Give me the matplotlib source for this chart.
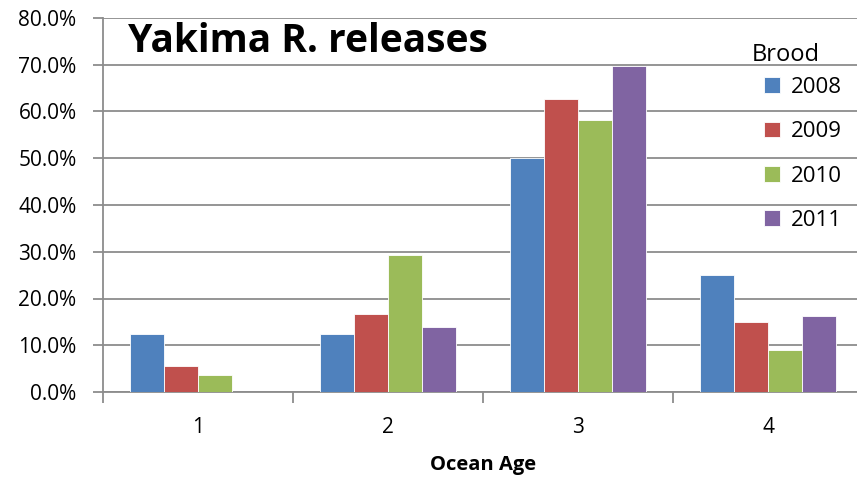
import matplotlib.pyplot as plt
import numpy as np

# ocean age categories and brood year series (fraction of returns)
ages = ['1', '2', '3', '4']
broods = ['2008', '2009', '2010', '2011']
b2008 = [0.125, 0.125, 0.500, 0.250]
b2009 = [0.056, 0.167, 0.627, 0.150]
b2010 = [0.037, 0.292, 0.581, 0.090]
b2011 = [0.000, 0.139, 0.698, 0.163]

colors = ['#4F81BD', '#C0504D', '#9BBB59', '#8064A2']

plt.rcParams['font.family'] = ['Open Sans', 'DejaVu Sans']

fig = plt.figure(figsize=(8.57, 4.82), dpi=100)
ax = fig.add_axes([103 / 857, 1 - 392 / 482, 760 / 857, 374 / 482])

x = np.arange(len(ages))
bar_width = 0.179
for i, (label, vals) in enumerate(zip(broods, [b2008, b2009, b2010, b2011])):
    ax.bar(x + (i - 1.5) * bar_width, vals, bar_width, color=colors[i],
           edgecolor='white', linewidth=0.6, label=label, zorder=3)

ax.set_xlim(-0.5, 3.5)
ax.set_ylim(0, 0.8)
ax.set_yticks(np.arange(0, 0.81, 0.1))
ax.set_yticklabels(['%.1f%%' % (v * 100) for v in np.arange(0, 0.81, 0.1)], fontsize=15)
ax.yaxis.grid(True, color='#8c8c8c', linewidth=1.3, zorder=0)

# ticks on category boundaries, labels at centres
ax.set_xticks(np.arange(-0.5, 3.6, 1.0))
ax.set_xticklabels([])
ax.set_xticks(x, minor=True)
ax.set_xticklabels(ages, minor=True, fontsize=15)
ax.tick_params(axis='x', which='minor', length=0, pad=18)
ax.tick_params(axis='x', which='major', length=8, width=1.3, color='#8c8c8c', direction='out')
ax.tick_params(axis='y', length=7, width=1.3, color='#8c8c8c', direction='out', pad=12)

for s in ['top', 'right']:
    ax.spines[s].set_visible(False)
for s in ['left', 'bottom']:
    ax.spines[s].set_color('#8c8c8c')
    ax.spines[s].set_linewidth(1.3)

ax.set_xlabel('Ocean Age', fontsize=14.5, fontweight='bold', labelpad=12)

fig.text(128 / 857, 1 - 42 / 482, 'Yakima R. releases', fontsize=28,
         fontweight='bold', va='center', ha='left')

fig.text(752 / 857, 1 - 55 / 482, 'Brood', fontsize=17, va='center', ha='left')
leg = ax.legend(loc='upper left', bbox_to_anchor=(764 / 857, 1 - 77 / 482),
                bbox_transform=fig.transFigure, frameon=False,
                fontsize=16, handlelength=0.7, handleheight=0.7,
                handletextpad=0.5, labelspacing=1.05, borderaxespad=0, borderpad=0)

plt.savefig('out.png', dpi=100)
